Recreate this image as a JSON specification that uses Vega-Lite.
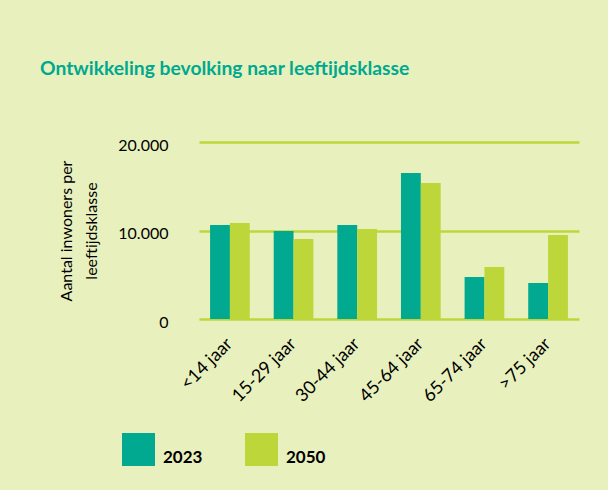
{
  "$schema": "https://vega.github.io/schema/vega-lite/v6.json",
  "width": 380,
  "height": 177,
  "autosize": "none",
  "padding": {"left": 199, "top": 142, "right": 29, "bottom": 171},
  "background": "#E8F1BD",
  "title": {
    "text": "Ontwikkeling bevolking naar leeftijdsklasse",
    "anchor": "start",
    "frame": "group",
    "dx": -159,
    "offset": 43,
    "baseline": "alphabetic",
    "font": "Lato",
    "fontSize": 19.3,
    "fontWeight": "bold",
    "color": "#00A88F"
  },
  "data": {
    "values": [
      {"klasse": "<14 jaar", "jaar": "2023", "inwoners": 10620},
      {"klasse": "<14 jaar", "jaar": "2050", "inwoners": 10850},
      {"klasse": "15-29 jaar", "jaar": "2023", "inwoners": 9940},
      {"klasse": "15-29 jaar", "jaar": "2050", "inwoners": 9040},
      {"klasse": "30-44 jaar", "jaar": "2023", "inwoners": 10620},
      {"klasse": "30-44 jaar", "jaar": "2050", "inwoners": 10170},
      {"klasse": "45-64 jaar", "jaar": "2023", "inwoners": 16500},
      {"klasse": "45-64 jaar", "jaar": "2050", "inwoners": 15370},
      {"klasse": "65-74 jaar", "jaar": "2023", "inwoners": 4750},
      {"klasse": "65-74 jaar", "jaar": "2050", "inwoners": 5880},
      {"klasse": ">75 jaar", "jaar": "2023", "inwoners": 4070},
      {"klasse": ">75 jaar", "jaar": "2050", "inwoners": 9490}
    ]
  },
  "mark": {"type": "bar"},
  "encoding": {
    "x": {
      "field": "klasse",
      "type": "nominal",
      "sort": null,
      "scale": {"paddingInner": 0.376, "paddingOuter": 0.174},
      "axis": {
        "title": null,
        "labelAngle": -45,
        "labelAlign": "right",
        "labelBaseline": "middle",
        "labelPadding": 22,
        "labelFont": "Lato",
        "labelFontSize": 18,
        "labelColor": "#000000",
        "domain": false,
        "ticks": false,
        "grid": false
      }
    },
    "xOffset": {
      "field": "jaar",
      "type": "nominal",
      "scale": {"paddingInner": 0, "paddingOuter": 0}
    },
    "y": {
      "field": "inwoners",
      "type": "quantitative",
      "scale": {"domain": [0, 20000], "nice": false},
      "axis": {
        "title": ["Aantal inwoners per", "leeftijdsklasse"],
        "titleFont": "Lato",
        "titleFontSize": 16,
        "titleFontWeight": "normal",
        "titleColor": "#000000",
        "titleLineHeight": 25,
        "titlePadding": 18,
        "values": [0, 10000, 20000],
        "labelExpr": "replace(format(datum.value, ','), ',', '.')",
        "labelFont": "Lato",
        "labelFontSize": 16,
        "labelColor": "#000000",
        "labelPadding": 31,
        "labelOffset": 3,
        "domain": false,
        "ticks": false,
        "grid": true,
        "gridColor": "#BDD73A",
        "gridWidth": 2.5,
        "gridOpacity": 1
      }
    },
    "color": {
      "field": "jaar",
      "type": "nominal",
      "scale": {"domain": ["2023", "2050"], "range": ["#00A98F", "#BDD73A"]},
      "legend": {
        "title": null,
        "orient": "none",
        "direction": "horizontal",
        "legendX": -77,
        "legendY": 291,
        "symbolType": "square",
        "symbolSize": 1089,
        "symbolStrokeWidth": 0,
        "symbolOpacity": 1,
        "labelFont": "Lato",
        "labelFontSize": 17,
        "labelFontWeight": "bold",
        "labelColor": "#000000",
        "labelBaseline": "top",
        "labelOffset": 8,
        "columnPadding": 42
      }
    }
  },
  "config": {
    "view": {"stroke": null}
  }
}
